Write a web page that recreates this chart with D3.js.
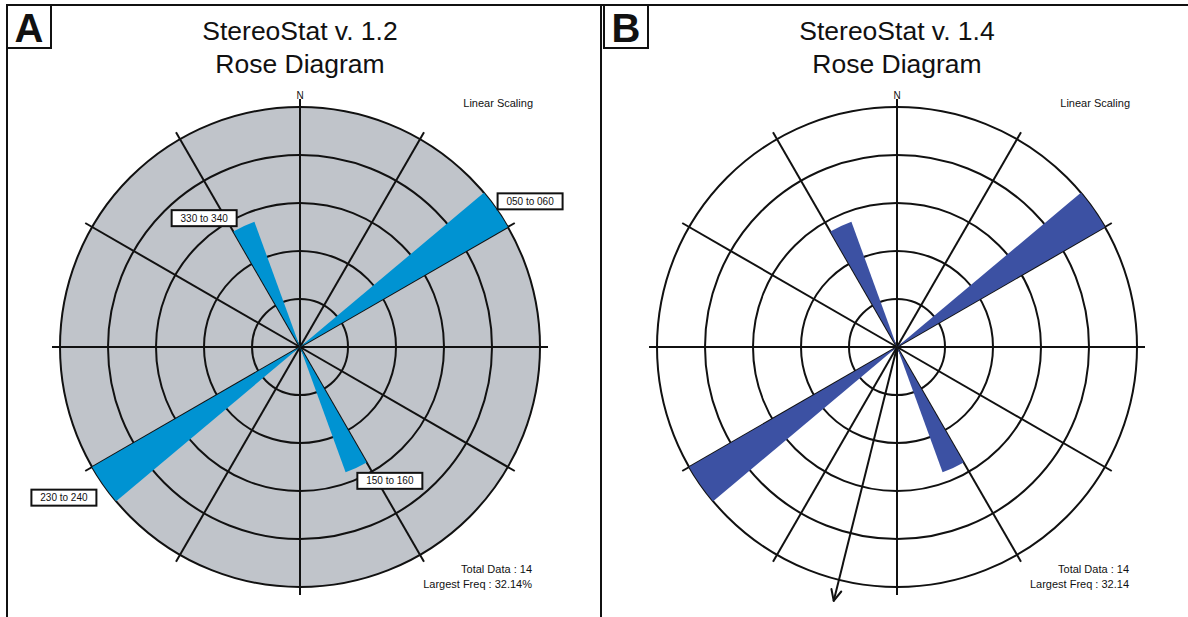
<!DOCTYPE html>
<html>
<head>
<meta charset="utf-8">
<script src="https://cdn.jsdelivr.net/npm/d3@7"></script>
<style>
  html, body { margin: 0; padding: 0; background: #fff; }
  svg { display: block; }
  text { font-family: "Liberation Sans", Arial, sans-serif; fill: #111; }
</style>
</head>
<body>
<svg id="chart" width="1188" height="617"></svg>
<script>
// Orientation bins (degrees, clockwise from north) and their counts.
// Data are axial, so every reading is counted in both opposite bins.
const binLabels = ["330 to 340", "050 to 060", "150 to 160", "230 to 240"];
const binStart  = [330, 50, 150, 230];
const binEnd    = [340, 60, 160, 240];
const binCounts = [5, 9, 5, 9];
const totalData = 14;

// Grid: concentric rings and radial spokes
const ringSteps   = [1, 2, 3, 4, 5];
const spokeAngles = [0, 30, 60, 90, 120, 150, 180, 210, 240, 270, 300, 330];

// Panel headers
const panelLetters = ["A", "B"];
const panelTitles  = ["StereoStat v. 1.2", "StereoStat v. 1.4"];
const freqSuffix   = ["%", ""];
// Mean-direction arrow drawn by v1.4 (bearing in degrees, length relative to the largest bin)
const meanBearing  = 194;
const meanLength   = 1.09;

const svg = d3.select("#chart");
const W = 1188, H = 617;
const R = 240;                       // outer ring radius
const panelCenters = [300, 897];
const cy = 347;
const rad = d => d * Math.PI / 180;

const freqs = binCounts.map(c => c / (2 * totalData) * 100);
const maxFreq = d3.max(freqs);
const r = d3.scaleLinear().domain([0, maxFreq]).range([0, R]);
const ringScale = d3.scaleLinear().domain([0, ringSteps.length]).range([0, R]);

const petals = binLabels.map((label, i) => ({
  label, start: binStart[i], end: binEnd[i], freq: freqs[i]
}));

// Outer frame
const frame = svg.append("g").attr("stroke", "#111").attr("stroke-width", 2).attr("fill", "none");
frame.append("line").attr("x1", 6).attr("x2", W).attr("y1", 5).attr("y2", 5);
frame.append("line").attr("x1", 7).attr("x2", 7).attr("y1", 5).attr("y2", H);
frame.append("line").attr("x1", 601).attr("x2", 601).attr("y1", 5).attr("y2", H);

function drawPanel(p) {
  const cx = panelCenters[p];
  const g = svg.append("g");

  // Letter box
  const bx = cx - 293;
  g.append("rect").attr("x", bx).attr("y", 5).attr("width", 44).attr("height", 43)
    .attr("fill", "#fff").attr("stroke", "#111").attr("stroke-width", 2);
  g.append("text").attr("x", bx + 22).attr("y", 42).attr("text-anchor", "middle")
    .attr("font-size", 40).attr("font-weight", "bold").text(panelLetters[p]);

  // Title
  g.append("text").attr("x", cx).attr("y", 40).attr("text-anchor", "middle")
    .attr("font-size", 26.5).text(panelTitles[p]);
  g.append("text").attr("x", cx).attr("y", 73).attr("text-anchor", "middle")
    .attr("font-size", 26.5).text("Rose Diagram");

  const plot = g.append("g").attr("transform", `translate(${cx},${cy})`);

  // Background disc (grey in v1.2, plain in v1.4)
  plot.append("circle").attr("r", R)
    .attr("fill", p === 0 ? "#c0c4ca" : "#fff");

  // Rings
  plot.selectAll("circle.ring").data(ringSteps).join("circle")
    .attr("class", "ring")
    .attr("r", d => ringScale(d))
    .attr("fill", "none").attr("stroke", "#111").attr("stroke-width", 2);

  // Spokes
  plot.selectAll("line.spoke").data(spokeAngles).join("line")
    .attr("class", "spoke")
    .attr("x1", 0).attr("y1", 0)
    .attr("x2", d => (R + 8) * Math.sin(rad(d)))
    .attr("y2", d => -(R + 8) * Math.cos(rad(d)))
    .attr("stroke", "#111").attr("stroke-width", 2);

  // Petals
  const arc = d3.arc()
    .innerRadius(0)
    .outerRadius(d => r(d.freq))
    .startAngle(d => rad(d.start))
    .endAngle(d => rad(d.end));
  plot.selectAll("path.petal").data(petals).join("path")
    .attr("class", "petal")
    .attr("d", arc)
    .attr("fill", p === 0 ? "#0093d2" : "#3c51a3");

  // North marker
  g.append("text").attr("x", cx).attr("y", 99).attr("text-anchor", "middle")
    .attr("font-size", 10).text("N");

  // Annotations
  g.append("text").attr("x", cx + 233).attr("y", 107).attr("text-anchor", "end")
    .attr("font-size", 11).text("Linear Scaling");
  g.append("text").attr("x", cx + 232).attr("y", 573).attr("text-anchor", "end")
    .attr("font-size", 11).text(`Total Data : ${totalData}`);
  g.append("text").attr("x", cx + 232).attr("y", 588).attr("text-anchor", "end")
    .attr("font-size", 11).text(`Largest Freq : ${maxFreq.toFixed(2)}${freqSuffix[p]}`);

  if (p === 0) {
    // Bin labels next to each petal tip
    const bw = 65, bh = 16;
    const lab = plot.selectAll("g.lab").data(petals).join("g").attr("class", "lab")
      .attr("transform", d => {
        const a = rad((d.start + d.end) / 2);
        const tx = r(d.freq) * Math.sin(a), ty = -r(d.freq) * Math.cos(a);
        const x = tx >= 0 ? tx + 1 : tx - bw - 7;
        const y = ty < 0 ? ty - bh : ty + 5;
        return `translate(${x},${y})`;
      });
    lab.append("rect").attr("width", bw).attr("height", bh)
      .attr("fill", "#fff").attr("stroke", "#111").attr("stroke-width", 2);
    lab.append("text").attr("x", bw / 2).attr("y", bh / 2 + 3.5)
      .attr("text-anchor", "middle").attr("font-size", 10).text(d => d.label);
  } else {
    // Mean direction arrow
    const L = r(maxFreq * meanLength);
    const a = rad(meanBearing);
    const ex = L * Math.sin(a), ey = -L * Math.cos(a);
    plot.append("line").attr("x1", 0).attr("y1", 0).attr("x2", ex).attr("y2", ey)
      .attr("stroke", "#111").attr("stroke-width", 2);
    const head = 12, spread = rad(25);
    const back = a + Math.PI;
    [back - spread, back + spread].forEach(b => {
      plot.append("line").attr("x1", ex).attr("y1", ey)
        .attr("x2", ex + head * Math.sin(b)).attr("y2", ey - head * Math.cos(b))
        .attr("stroke", "#111").attr("stroke-width", 2).attr("stroke-linecap", "round");
    });
  }
}

panelCenters.forEach((_, p) => drawPanel(p));
</script>
</body>
</html>
